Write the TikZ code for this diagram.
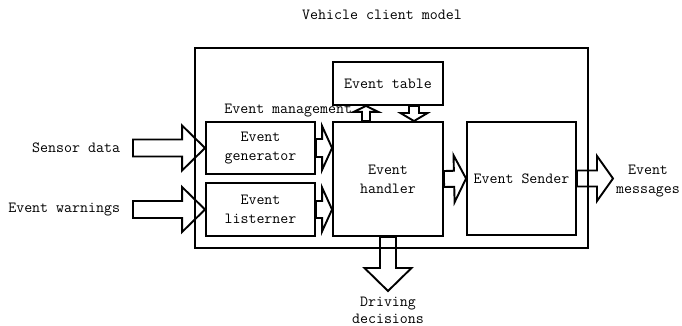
\documentclass[tikz,border=0pt]{standalone}
\usepackage{tikz}
\usetikzlibrary{calc}
\newcommand\blockarrow[5]{%
  \coordinate (ba-tail) at (#1);
  \coordinate (ba-tip) at (#2);
  \coordinate (ba-base) at ($(ba-tip)!#5!(ba-tail)$);
  \draw[blockarr] ($(ba-tail)!#3!90:(ba-tip)$) -- ($(ba-base)!#3!90:(ba-tip)$)
    -- ($(ba-base)!#4!90:(ba-tip)$) -- (ba-tip) -- ($(ba-base)!#4!-90:(ba-tip)$)
    -- ($(ba-base)!#3!-90:(ba-tip)$) -- ($(ba-tail)!#3!-90:(ba-tip)$) -- cycle;}

\begin{document}
\begin{tikzpicture}[x=1pt,y=-1pt,line width=1.9pt,font=\ttfamily\fontsize{15.5}{19}\selectfont]
    \tikzstyle{label}=[text=black,inner sep=0pt]
    \tikzstyle{box}=[draw, rectangle, inner sep=2pt, align=center, text=black]
    \tikzstyle{blockarr}=[draw=black, line join=miter, fill=none]

    \useasboundingbox (0,0) rectangle (682,326);

    \node[box, minimum width=393, minimum height=200] (model)     at (391.5,148) {};
    \node[label]                                      (title)     at (382,15)    {Vehicle client model};
    \node[box, minimum width=110, minimum height=43]  (table)     at (388,83.5)  {Event table};
    \node[box, minimum width=109, minimum height=52]  (generator) at (260.5,148)  {Event\\generator};
    \node[box, minimum width=109, minimum height=53]  (listerner) at (260.5,209.5) {Event\\listerner};
    \node[box, minimum width=110, minimum height=114] (handler)   at (388,179)   {Event\\handler};
    \node[box, minimum width=109, minimum height=113] (sender)    at (521.5,178.5) {Event Sender};

    \node[label, anchor=east] (sensor)   at (121,148)   {Sensor data};
    \node[label, anchor=east] (warnings) at (121,209.5) {Event warnings};
    \node[label, anchor=east] (manage)   at (353,111)   {Event management};
    \node[label, align=center] (messages) at (648,181)  {Event\\messages};
    \node[label, align=center, font=\ttfamily\fontsize{15.5}{17}\selectfont] (driving) at (388,310) {Driving\\decisions};

    \coordinate (sensortail) at (133,148);
    \coordinate (warntail)   at (133,209.5);
    \coordinate (msgtip)     at (613,178.5);
    \coordinate (drivetip)   at (388,291);

    \blockarrow{sensortail}{generator.west}{8.5pt}{22.5pt}{23pt}
    \blockarrow{warntail}{listerner.west}{8.5pt}{22.5pt}{23pt}
    \blockarrow{generator.east}{handler.west |- generator.east}{9pt}{22pt}{10pt}
    \blockarrow{listerner.east}{handler.west |- listerner.east}{8.5pt}{22pt}{10pt}
    \blockarrow{handler.east}{sender.west}{8pt}{23.5pt}{12pt}
    \blockarrow{sender.east}{msgtip}{8pt}{22.5pt}{16pt}
    \blockarrow{handler.south}{drivetip}{8pt}{23.5pt}{23pt}
    \blockarrow{$(handler.north)+(-22,0)$}{$(table.south)+(-22,0)$}{4pt}{12.5pt}{6pt}
    \blockarrow{$(table.south)+(26,0)$}{$(handler.north)+(26,0)$}{5pt}{13.5pt}{8pt}
\end{tikzpicture}
\end{document}
